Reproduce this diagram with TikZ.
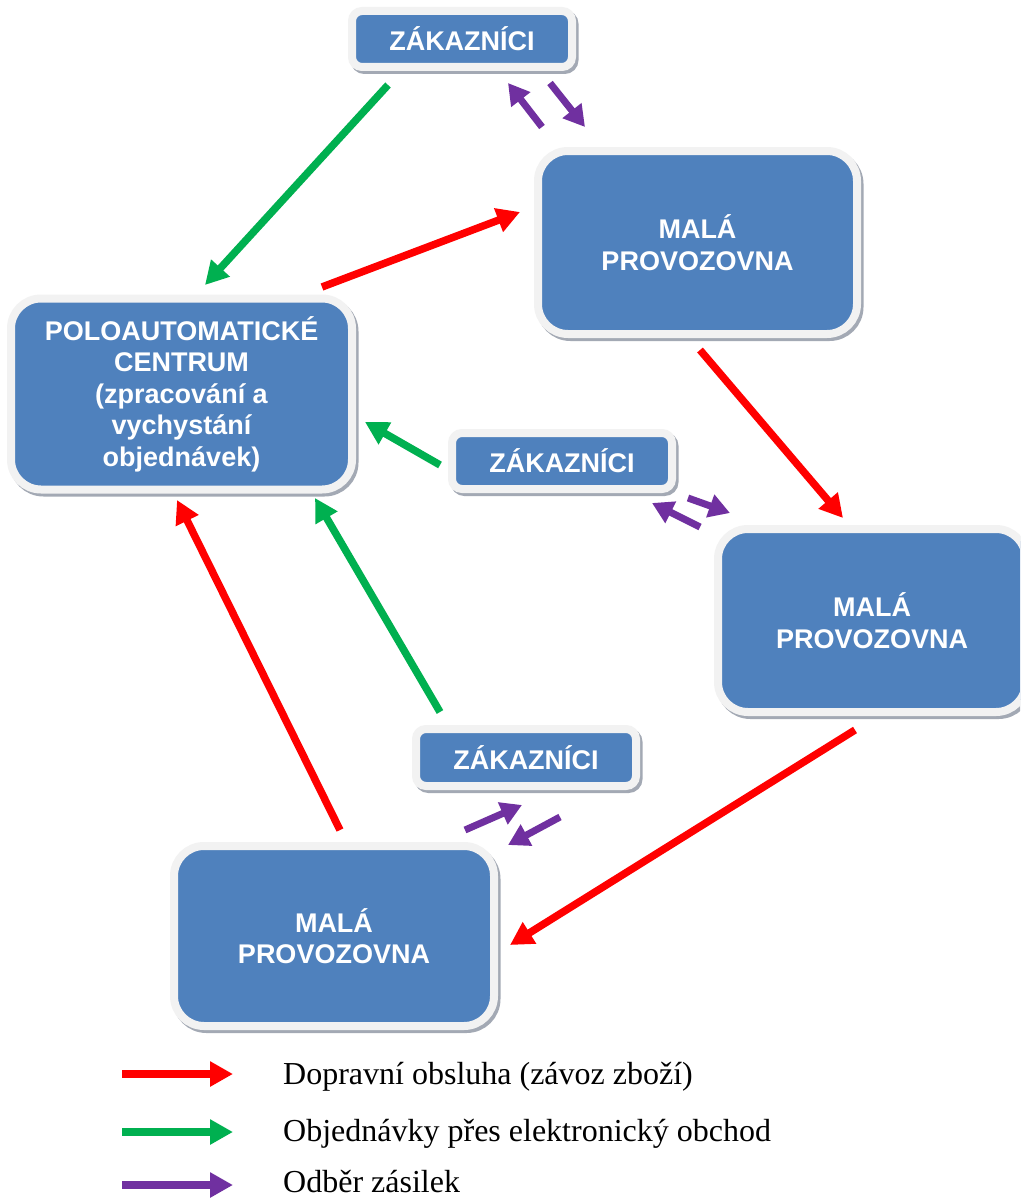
\documentclass[tikz,border=0pt]{standalone}
\usepackage{fontspec}
\setmainfont{Liberation Serif}
\setsansfont{Liberation Sans}
\usetikzlibrary{arrows.meta}
\definecolor{boxblue}{HTML}{4F81BD}
\definecolor{framec}{HTML}{F2F2F2}
\definecolor{shadowc}{HTML}{A3A9B4}
\definecolor{redc}{HTML}{FF0000}
\definecolor{greenc}{HTML}{00B050}
\definecolor{purplec}{HTML}{7030A0}
\tikzset{
  basebox/.style={fill=boxblue, draw=framec, line width=8pt, inner sep=0pt,
    text=white, align=center,
    font=\sffamily\bfseries\fontsize{27}{31.5}\selectfont,
    preaction={draw=shadowc, line width=8pt, transform canvas={shift={(2.5pt,-3pt)}}}},
  smallbox/.style={basebox, rounded corners=10pt, minimum width=220pt, minimum height=56pt},
  bigbox/.style={basebox, rounded corners=30pt},
  flow/.style={line width=7.5pt, -{Triangle[length=23pt,width=24pt]}},
  redarr/.style={flow, draw=redc},
  greenarr/.style={flow, draw=greenc},
  purplearr/.style={flow, draw=purplec, line width=7pt, -{Triangle[length=21pt,width=23pt]}},
  legtext/.style={anchor=base west, inner sep=0pt, font=\fontsize{32}{36}\selectfont}
}
\begin{document}
\begin{tikzpicture}[x=1pt, y=-1pt]
\clip (0,0) rectangle (1020,1199);
\fill[white] (0,0) rectangle (1020,1199);

% boxes
\node[smallbox] (zt) at (462,39) {ZÁKAZNÍCI};
\node[bigbox, minimum width=319pt, minimum height=183pt] (m1) at (697.5,242.5) {MALÁ\\PROVOZOVNA};
\node[bigbox, minimum width=341pt, minimum height=191pt] (pc) at (181.5,394) {POLOAUTOMATICKÉ\\CENTRUM\\(zpracování a\\vychystání\\objednávek)};
\node[smallbox] (zm) at (562,461) {ZÁKAZNÍCI};
\node[bigbox, minimum width=308pt, minimum height=183pt] (m2) at (872,620.5) {MALÁ\\PROVOZOVNA};
\node[smallbox, minimum height=57pt] (zb) at (526,757.5) {ZÁKAZNÍCI};
\node[bigbox, minimum width=320pt, minimum height=180pt] (m3) at (334,936) {MALÁ\\PROVOZOVNA};

% connector end points
\coordinate (g1s) at (388,85);   \coordinate (g1e) at (205,285);
\coordinate (r1s) at (322,287);  \coordinate (r1e) at (520,212);
\coordinate (r2s) at (700,350);  \coordinate (r2e) at (843,518);
\coordinate (g2s) at (440,465);  \coordinate (g2e) at (365,422);
\coordinate (p1s) at (542,127);  \coordinate (p1e) at (508,83);
\coordinate (p2s) at (550,83);   \coordinate (p2e) at (585,127);
\coordinate (p3s) at (700,527);  \coordinate (p3e) at (652,503);
\coordinate (p4s) at (688,498);  \coordinate (p4e) at (730,513);
\coordinate (r3s) at (855,730);  \coordinate (r3e) at (510,945);
\coordinate (g3s) at (440,712);  \coordinate (g3e) at (315,498);
\coordinate (r4s) at (340,830);  \coordinate (r4e) at (177,500);
\coordinate (p5s) at (465,830);  \coordinate (p5e) at (522,805);
\coordinate (p6s) at (560,817);  \coordinate (p6e) at (508,845);

\draw[greenarr] (g1s) -- (g1e);
\draw[redarr] (r1s) -- (r1e);
\draw[redarr] (r2s) -- (r2e);
\draw[greenarr] (g2s) -- (g2e);
\draw[purplearr] (p1s) -- (p1e);
\draw[purplearr] (p2s) -- (p2e);
\draw[purplearr] (p3s) -- (p3e);
\draw[purplearr] (p4s) -- (p4e);
\draw[redarr] (r3s) -- (r3e);
\draw[greenarr] (g3s) -- (g3e);
\draw[redarr] (r4s) -- (r4e);
\draw[purplearr] (p5s) -- (p5e);
\draw[purplearr] (p6s) -- (p6e);

% legend
\coordinate (l1s) at (122,1074); \coordinate (l1e) at (233,1074);
\coordinate (l2s) at (122,1132); \coordinate (l2e) at (233,1132);
\coordinate (l3s) at (122,1185); \coordinate (l3e) at (233,1185);
\draw[redarr] (l1s) -- (l1e);
\draw[greenarr] (l2s) -- (l2e);
\draw[purplearr, line width=7.5pt, -{Triangle[length=23pt,width=24pt]}] (l3s) -- (l3e);
\node[legtext] (t1) at (283,1084) {Dopravní obsluha (závoz zboží)};
\node[legtext] (t2) at (283,1141) {Objednávky přes elektronický obchod};
\node[legtext] (t3) at (283,1192) {Odběr zásilek};
\end{tikzpicture}
\end{document}
